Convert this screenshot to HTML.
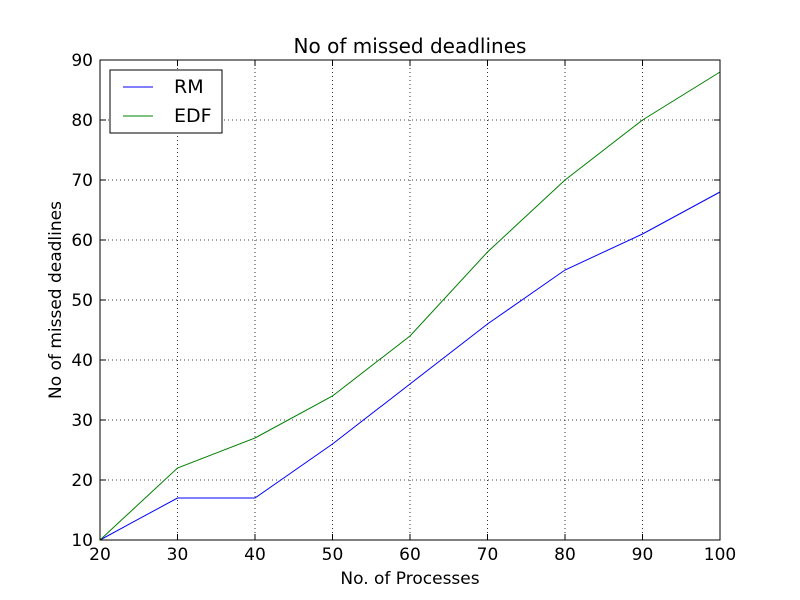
<!DOCTYPE html>
<html><head><meta charset="utf-8"><style>
body{margin:0;background:#fff;}
svg{display:block;font-family:"DejaVu Sans","Liberation Sans",sans-serif;}
</style></head><body>
<svg id="chart" width="800" height="600" xmlns="http://www.w3.org/2000/svg">
<rect width="800" height="600" fill="#fff"/>
<rect x="100" y="60" width="620" height="480" fill="#fff"/>
<g id="grid"></g><g id="ticks"></g><g id="lines"></g>
<rect x="100" y="60" width="620" height="480" fill="none" stroke="#000" stroke-width="1"/>
<text x="410" y="53" font-size="20" text-anchor="middle">No of missed deadlines</text>
<text x="410" y="584" font-size="17" text-anchor="middle">No. of Processes</text>
<text x="61" y="300" font-size="17" text-anchor="middle" transform="rotate(-90 61 300)">No of missed deadlines</text>
<g>
<rect x="110" y="70" width="112" height="63" fill="#fff" stroke="#000"/>
<line x1="123" y1="87" x2="153" y2="87" stroke="#0000ff"/>
<text x="174" y="93" font-size="19">RM</text>
<line x1="123" y1="116" x2="153" y2="116" stroke="#008000"/>
<text x="174" y="122" font-size="19">EDF</text>
</g>
</svg>
<script>
const categories=[20,30,40,50,60,70,80,90,100];
const rmValues=[10,17,17,26,36,46,55,61,68];
const edfValues=[10,22,27,34,44,58,70,80,88];
const xTicks=[20,30,40,50,60,70,80,90,100];
const yTicks=[10,20,30,40,50,60,70,80,90];
const NS="http://www.w3.org/2000/svg";
const xs=v=>100+(v-20)/80*620;
const ys=v=>540-(v-10)/80*480;
function mk(tag,attrs,parent){const e=document.createElementNS(NS,tag);for(const k in attrs)e.setAttribute(k,attrs[k]);document.getElementById(parent).appendChild(e);return e;}
xTicks.forEach(t=>{
  const x=xs(t);
  const g=mk('line',{x1:x,y1:60,x2:x,y2:540,stroke:'#000','stroke-dasharray':'1,3','stroke-width':0.8},'grid');
  
  
  const a=mk('line',{x1:x,y1:540,x2:x,y2:534,stroke:'#000'},'ticks');
  
  
  const b=mk('line',{x1:x,y1:60,x2:x,y2:66,stroke:'#000'},'ticks');
  
  
  const l=mk('text',{x:x,y:560,'font-size':17,'text-anchor':'middle'},'ticks');
  l.textContent=t;
  
  
});
yTicks.forEach(t=>{
  const y=ys(t);
  const g=mk('line',{x1:100,y1:y,x2:720,y2:y,stroke:'#000','stroke-dasharray':'1,3','stroke-width':0.8},'grid');
  
  
  const a=mk('line',{x1:100,y1:y,x2:106,y2:y,stroke:'#000'},'ticks');
  
  
  const b=mk('line',{x1:714,y1:y,x2:720,y2:y,stroke:'#000'},'ticks');
  
  
  const l=mk('text',{x:93,y:y+6,'font-size':17,'text-anchor':'end'},'ticks');
  l.textContent=t;
  
  
});
const rm=mk('polyline',{points:categories.map((c,i)=>xs(c)+','+ys(rmValues[i])).join(' '),fill:'none',stroke:'#0000ff','stroke-width':1},'lines');


const edf=mk('polyline',{points:categories.map((c,i)=>xs(c)+','+ys(edfValues[i])).join(' '),fill:'none',stroke:'#008000','stroke-width':1},'lines');


</script>
</body></html>
